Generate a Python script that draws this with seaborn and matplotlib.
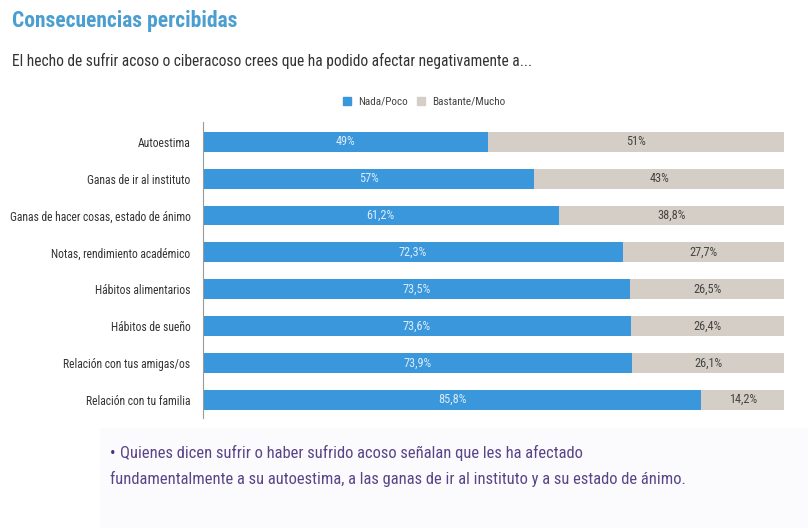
import matplotlib
matplotlib.use('Agg')
import matplotlib.pyplot as plt
import seaborn as sns
import pandas as pd
from matplotlib import font_manager
from matplotlib.patches import Rectangle

# Data
categories = ['Autoestima', 'Ganas de ir al instituto', 'Ganas de hacer cosas, estado de ánimo',
              'Notas, rendimiento académico', 'Hábitos alimentarios', 'Hábitos de sueño',
              'Relación con tus amigas/os', 'Relación con tu familia']
nada_poco = [49, 57, 61.2, 72.3, 73.5, 73.6, 73.9, 85.8]
bastante_mucho = [51, 43, 38.8, 27.7, 26.5, 26.4, 26.1, 14.2]
series_names = ['Nada/Poco', 'Bastante/Mucho']

blue = '#3a97dc'
grey = '#d5cec6'

sns.set_style('white')
# narrow font if one is around, otherwise something plain
names = {f.name for f in font_manager.fontManager.ttflist}
font = 'DejaVu Sans'
for cand in ['Roboto Condensed', 'Archivo Narrow', 'Liberation Sans Narrow', 'Roboto']:
    if cand in names:
        font = cand
        break
plt.rcParams['font.family'] = [font, 'DejaVu Sans']

df = pd.DataFrame({'cat': categories, 'nada': nada_poco, 'bastante': bastante_mucho})
df['total'] = df['nada'] + df['bastante']

fig = plt.figure(figsize=(8.08, 5.28), dpi=100)
ax = fig.add_axes([203 / 808, 1 - 418 / 528, 581 / 808, 296 / 528])

# stacked bars: total in grey, first part in blue on top
sns.barplot(data=df, x='total', y='cat', color=grey, width=0.54, ax=ax,
            saturation=1, linewidth=0, legend=False)
sns.barplot(data=df, x='nada', y='cat', color=blue, width=0.54, ax=ax,
            saturation=1, linewidth=0, legend=False)

ax.set_xlim(0, 100)
ax.set_ylim(7.5, -0.54)
ax.set_xlabel('')
ax.set_ylabel('')
ax.set_xticks([])
for s in ['top', 'right', 'bottom']:
    ax.spines[s].set_visible(False)
ax.spines['left'].set_color('#9a9a9a')
ax.spines['left'].set_linewidth(0.8)
ax.tick_params(axis='y', length=0, pad=9, labelsize=8.4, labelcolor='#333333')


def fmt(v):
    return (f'{v:g}').replace('.', ',') + '%'


for i, (a, b) in enumerate(zip(nada_poco, bastante_mucho)):
    ax.text(a / 2, i, fmt(a), ha='center', va='center', color='#dcecf9', fontsize=8.8)
    ax.text(a + b / 2, i, fmt(b), ha='center', va='center', color='#444444', fontsize=8.8)

handles = [Rectangle((0, 0), 1, 1, color=blue), Rectangle((0, 0), 1, 1, color=grey)]
fig.legend(handles, series_names, loc='center', bbox_to_anchor=(424 / 808, 1 - 102 / 528),
           ncol=2, frameon=False, fontsize=8, handlelength=0.75, handleheight=0.75,
           handletextpad=0.6, columnspacing=0.8, labelcolor='#444444')

fig.text(12 / 808, 1 - 21 / 528, 'Consecuencias percibidas', fontsize=15.5, fontweight='bold',
         color='#4a9fd0', va='center', ha='left')
fig.text(12 / 808, 1 - 61 / 528,
         'El hecho de sufrir acoso o ciberacoso crees que ha podido afectar negativamente a...',
         fontsize=11.2, color='#333333', va='center', ha='left')

# faint note box at the bottom
fig.patches.append(Rectangle((100 / 808, 0.0), 708 / 808, 100 / 528, transform=fig.transFigure,
                             facecolor='#fbfbfd', edgecolor='none', zorder=0))
fig.text(110 / 808, 1 - 453 / 528, '•', fontsize=12, color='#4b2d7f', va='center', ha='left')
fig.text(120 / 808, 1 - 453 / 528,
         'Quienes dicen sufrir o haber sufrido acoso señalan que les ha afectado',
         fontsize=11.9, color='#5a4488', va='center', ha='left')
fig.text(110 / 808, 1 - 479 / 528,
         'fundamentalmente a su autoestima, a las ganas de ir al instituto y a su estado de ánimo.',
         fontsize=11.9, color='#5a4488', va='center', ha='left')

fig.savefig('out.png', dpi=100)
